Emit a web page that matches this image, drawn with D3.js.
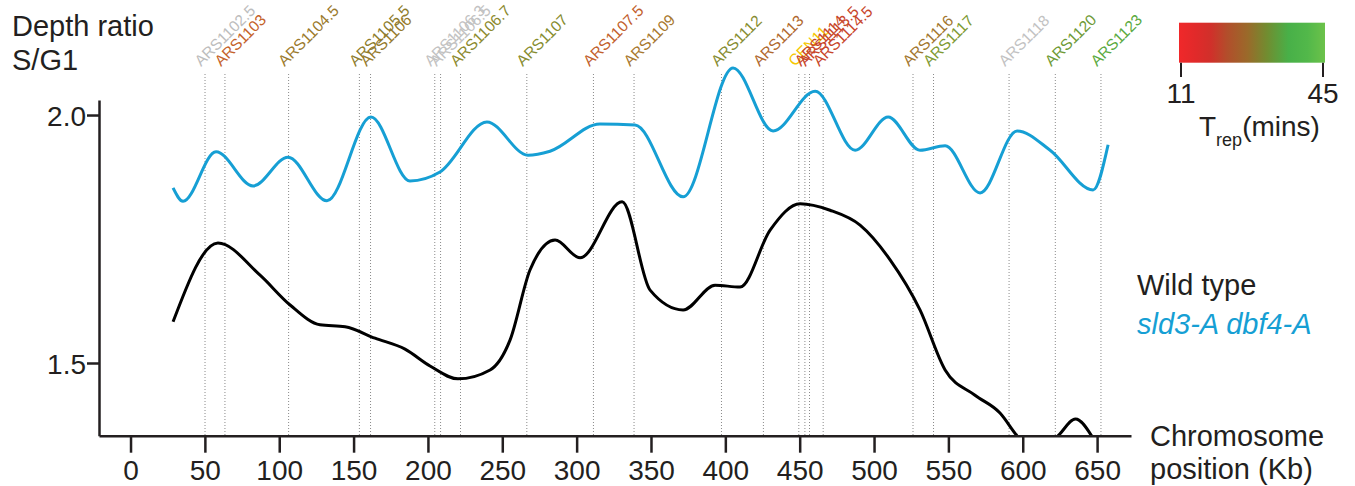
<!DOCTYPE html>
<html><head><meta charset="utf-8">
<script src="https://cdn.jsdelivr.net/npm/d3@7"></script>
<style>
body{margin:0;background:#fff}
svg{display:block}
text{font-family:"Liberation Sans",Arial,Helvetica,sans-serif}
</style>
</head><body>
<svg id="chart" width="1355" height="486"></svg>
<script>
// ---------------- data ----------------
const xTicks = [0,50,100,150,200,250,300,350,400,450,500,550,600,650];
const yTicks = [1.5, 2.0];
const trepTicks = [11, 45];
const legendLabels = ["Wild type", "sld3-A dbf4-A"];

const arsNames = ["ARS1102.5","ARS1103","ARS1104.5","ARS1105.5","ARS1106","ARS1106.3","ARS1106.5","ARS1106.7","ARS1107","ARS1107.5","ARS1109","ARS1112","ARS1113","CEN11","ARS1114","ARS1113.5","ARS1114.5","ARS1116","ARS1117","ARS1118","ARS1120","ARS1123"];
const arsKb    = [50.1, 63.5, 106.3, 153.9, 161.4, 204.6, 208.5, 221.9, 266.5, 311.3, 338.6, 397.4, 425.6, 449.4, 453.5, 456.6, 465.8, 526.2, 540.0, 590.8, 621.9, 652.6];

// Wild type (black)
const wtKb    = [28.6, 58.8, 87.1, 107.3, 127.4, 144.3, 164.4, 184.6, 201.4, 220.2, 241.8, 255.2, 268.7, 285.5, 302.3, 330.6, 349.4, 371.6, 393.1, 409.9, 430.1, 450.3, 470.4, 490.6, 510.8, 530.9, 547.8, 567.9, 584.7, 596.2, 608.0, 623.4, 635.5, 646.3, 654.4];
const wtRatio = [1.583, 1.742, 1.677, 1.617, 1.577, 1.573, 1.550, 1.528, 1.494, 1.468, 1.486, 1.546, 1.688, 1.748, 1.712, 1.825, 1.647, 1.607, 1.657, 1.653, 1.768, 1.821, 1.808, 1.778, 1.708, 1.607, 1.486, 1.435, 1.399, 1.353, 1.315, 1.352, 1.387, 1.353, 1.304];

// sld3-A dbf4-A (blue)
const mutKb    = [28.6, 35.3, 57.5, 82.4, 105.9, 132.1, 161.7, 187.9, 208.1, 239.7, 267.3, 282.1, 315.7, 339.3, 371.6, 405.2, 432.1, 460.4, 487.3, 509.5, 530.9, 547.8, 571.3, 596.2, 618.4, 647.3, 657.4];
const mutRatio = [1.853, 1.826, 1.926, 1.857, 1.915, 1.827, 1.996, 1.867, 1.885, 1.986, 1.919, 1.927, 1.982, 1.980, 1.835, 2.095, 1.968, 2.048, 1.929, 1.996, 1.929, 1.938, 1.843, 1.968, 1.929, 1.849, 1.940];

// ---------------- styles ----------------
const labelColor = {
  "ARS1102.5":"#bdbdbd","ARS1103":"#c4622a","ARS1104.5":"#9b7a2c","ARS1105.5":"#8e7c2c","ARS1106":"#957a2c",
  "ARS1106.3":"#c2c2c2","ARS1106.5":"#c2c2c2","ARS1106.7":"#8c8a2e","ARS1107":"#868c2e","ARS1107.5":"#c2602c",
  "ARS1109":"#a8782e","ARS1112":"#868c30","ARS1113":"#b0682e","CEN11":"#f5c800","ARS1114":"#c8462a",
  "ARS1113.5":"#c8462a","ARS1114.5":"#c8462a","ARS1116":"#a2762e","ARS1117":"#7e9a32","ARS1118":"#c2c2c2",
  "ARS1120":"#6e9a36","ARS1123":"#5aaa40"
};
const axisColor = "#231f20";
const blue = "#169fd4";

const svg = d3.select("#chart");
const x = d3.scaleLinear().domain([-21.2, 672.8]).range([99, 1131]);
const y = d3.scaleLinear().domain([1.3534, 2.0303]).range([435.7, 100]);

// clip
svg.append("defs").append("clipPath").attr("id","plotclip")
  .append("rect").attr("x", 99).attr("y", 0).attr("width", 1131-99).attr("height", 435.7);

// dotted ARS lines
svg.append("g").selectAll("line").data(arsKb).join("line")
  .attr("x1", d => x(d)).attr("x2", d => x(d))
  .attr("y1", 74).attr("y2", 435)
  .attr("stroke", "#8a8a8a").attr("stroke-width", 1).attr("stroke-dasharray", "1,2");

// ARS labels
svg.append("g").selectAll("text").data(arsNames).join("text")
  .attr("transform", (d,i) => `translate(${x(arsKb[i]) - 4},67) rotate(-45)`)
  .attr("font-size", 15.5)
  .attr("fill", d => labelColor[d])
  .text(d => d);

// curves
const line = d3.line().x(d => x(d[0])).y(d => y(d[1])).curve(d3.curveMonotoneX);
const g = svg.append("g").attr("clip-path", "url(#plotclip)");
g.append("path").datum(wtKb.map((k,i) => [k, wtRatio[i]]))
  .attr("d", line).attr("fill","none").attr("stroke","#000").attr("stroke-width",3);
g.append("path").datum(mutKb.map((k,i) => [k, mutRatio[i]]))
  .attr("d", line).attr("fill","none").attr("stroke",blue).attr("stroke-width",3);

// axes
const xAxis = svg.append("g").attr("transform","translate(0,435.7)")
  .call(d3.axisBottom(x).tickValues(xTicks).tickSize(17).tickSizeOuter(0).tickPadding(7).tickFormat(d3.format("d")));
const yAxis = svg.append("g").attr("transform","translate(99,0)")
  .call(d3.axisLeft(y).tickValues(yTicks).tickSize(12).tickSizeOuter(0).tickPadding(1).tickFormat(d3.format(".1f")));
[xAxis, yAxis].forEach(a => {
  a.select(".domain").attr("stroke", axisColor).attr("stroke-width", 2.5);
  a.selectAll(".tick line").attr("stroke", axisColor).attr("stroke-width", 2.5);
  a.selectAll(".tick text").attr("font-size", 28).attr("fill", axisColor)
    .attr("font-family", '"Liberation Sans",Arial,sans-serif');
});
yAxis.selectAll(".tick text").attr("dy", "0.38em");

// titles
svg.append("text").attr("x", 12).attr("y", 36).attr("font-size", 29).attr("fill", axisColor).text("Depth ratio");
svg.append("text").attr("x", 12).attr("y", 70).attr("font-size", 29).attr("fill", axisColor).text("S/G1");
svg.append("text").attr("x", 1150).attr("y", 446).attr("font-size", 29).attr("fill", axisColor).text("Chromosome");
svg.append("text").attr("x", 1150).attr("y", 479).attr("font-size", 29).attr("fill", axisColor).text("position (Kb)");

// legend
svg.append("text").attr("x", 1137).attr("y", 295).attr("font-size", 29).attr("fill", axisColor).text(legendLabels[0]);
svg.append("text").attr("x", 1137).attr("y", 334).attr("font-size", 29).attr("fill", blue)
  .attr("font-style", "italic").text(legendLabels[1]);

// colour bar
const grad = svg.select("defs").append("linearGradient").attr("id","trep").attr("x1","0%").attr("x2","100%");
[[0,"#f0282a"],[0.12,"#e02a2a"],[0.22,"#d0302a"],[0.33,"#b24e2b"],[0.47,"#9a6a2a"],[0.6,"#728c30"],[0.75,"#48b048"],[0.88,"#52b84a"],[1,"#6cc24a"]]
  .forEach(s => grad.append("stop").attr("offset", s[0]).attr("stop-color", s[1]));
const cb = d3.scaleLinear().domain([11,45]).range([1181, 1323]);
svg.append("rect").attr("x",1179).attr("y",22.7).attr("width",146).attr("height",40).attr("fill","url(#trep)");
svg.append("g").selectAll("line").data(trepTicks).join("line")
  .attr("x1", d => cb(d)).attr("x2", d => cb(d)).attr("y1", 62.7).attr("y2", 77)
  .attr("stroke", axisColor).attr("stroke-width", 2);
svg.append("g").selectAll("text").data(trepTicks).join("text")
  .attr("x", d => cb(d)).attr("y", 103).attr("text-anchor","middle").attr("font-size",28).attr("fill",axisColor)
  .text(d => d);
const tt = svg.append("text").attr("x", 1199).attr("y", 136).attr("font-size", 28).attr("fill", axisColor);
tt.append("tspan").text("T");
tt.append("tspan").attr("font-size", 18).attr("dy", 10).text("rep");
tt.append("tspan").attr("dy", -10).text("(mins)");
</script>
</body></html>
